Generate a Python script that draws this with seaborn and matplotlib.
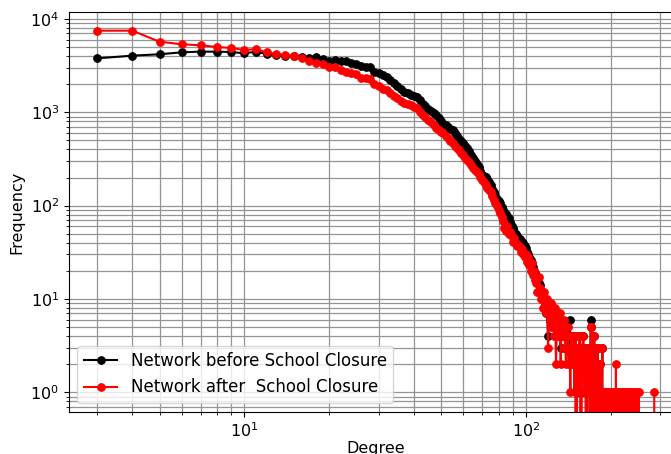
import numpy as np
import pandas as pd
import matplotlib
matplotlib.use("Agg")
import matplotlib.pyplot as plt
import seaborn as sns

label_before = "Network before School Closure"
label_after = "Network after  School Closure"

freq_before = [
    3790, 4050, 4190, 4400, 4470, 4470, 4430, 4290, 4470, 4220,
    4120, 4050, 4010, 3950, 3850, 3890, 3730, 3580, 3640, 3560,
    3560, 3350, 3300, 3140, 3090, 3060, 2720, 2620, 2520, 2410,
    2220, 2060, 1910, 1780, 1660, 1610, 1530, 1500, 1470, 1360,
    1230, 1170, 1090, 1030, 985, 935, 870, 810, 750, 730,
    700, 660, 646, 600, 560, 520, 490, 470, 435, 414,
    385, 350, 325, 300, 280, 260, 235, 213, 208, 203,
    193, 180, 167, 151, 141, 128, 119, 112, 107, 97,
    90, 86, 82, 78, 74, 67, 61, 57, 52, 50,
    47, 45, 44, 42, 41, 40, 37, 35, 32, 30,
    28, 26, 24, 22, 20, 19, 17,
    16, 15, 14, 12, 11, 10, 8, 9, 7, 8,
    4, 7, 6, 8, 5, 6, 6, 5, 7, 5,
    5, 4, 6, 3, 5, 4, 5, 5, 3, 3,
    4, 4, 3, 6, 2, 4, 3, 3, 4, 2,
    4, 1, 3, 3, 1, 4, 2, 1, 3, 3,
    4, 1, 2, 3, 1, 3, 1, 2, 3, 1,
    5, 6, 3, 1, 1, 4, 2, 1, 0, 3,
    3, 1, 0, 2, 1, 0, 1, 3, 0, 1,
    1, 0, 1, 1, 0, 1, 0, 1, 1, 0,
]

freq_after = [
    7500, 7500, 5710, 5360, 5230, 5010, 4890, 4650, 4770, 4400,
    4220, 4120, 4010, 3790, 3550, 3400, 3300, 3080, 3030, 2840,
    2720, 2620, 2550, 2330, 2320, 2270, 2010, 1910, 1780, 1730,
    1610, 1500, 1430, 1320, 1250, 1230, 1200, 1140, 1110, 1010,
    935, 890, 830, 790, 730, 680, 646, 615, 596, 560,
    530, 490, 470, 435, 414, 395, 365, 349, 325, 310,
    295, 275, 251, 240, 228, 218, 204, 190, 180, 167,
    156, 148, 141, 128, 115, 107, 100, 90, 84, 76,
    69, 58, 54, 61, 50, 52, 47, 41, 45, 40,
    37, 38, 36, 32, 34, 30, 28, 30, 25, 28,
    23, 20, 24, 18, 20, 16, 15,
    12, 17, 13, 10, 11, 8, 12, 9, 7, 10,
    3, 8, 6, 9, 5, 7, 4, 8, 2, 5,
    6, 4, 7, 2, 5, 4, 4, 6, 3, 2,
    4, 5, 2, 3, 1, 4, 2, 3, 4, 1,
    4, 0, 3, 3, 1, 4, 2, 0, 3, 3,
    4, 1, 2, 3, 0, 3, 1, 2, 3, 0,
    5, 5, 3, 0, 1, 4, 2, 1, 0, 3,
    3, 1, 0, 2, 1, 0, 1, 3, 0, 1,
    1, 0, 1, 1, 0, 1, 0, 1, 1, 0,
    1, 0, 0, 1, 0, 1, 0, 1, 0, 2,
    0, 1, 0, 0, 1, 0, 1, 0, 0, 1,
    0, 0, 1, 0, 1, 0, 0, 1, 0, 0,
    1, 0, 0, 1, 0, 0, 1, 0, 0, 0,
    1, 0, 0, 0, 1, 0, 0, 0, 1, 0,
    0, 1, 1, 0, 0, 0, 0, 0, 0, 0,
    0, 0, 0, 0, 0, 0, 0, 0, 0, 0,
    0, 0, 0, 0, 0, 0, 0, 0, 0, 0,
    0, 0, 0, 0, 0, 0, 1,
]

first_degree = 3
deg_before = list(range(first_degree, first_degree + len(freq_before)))
deg_after = list(range(first_degree, first_degree + len(freq_after)))

df_before = pd.DataFrame({"Degree": deg_before, "Frequency": freq_before})
df_after = pd.DataFrame({"Degree": deg_after, "Frequency": freq_after})

fig = plt.figure(figsize=(6.71, 4.54), dpi=100)
ax = fig.add_axes([69 / 671, (454 - 411.5) / 454, (682 - 69) / 671, (411.5 - 12.3) / 454])

sns.lineplot(data=df_before, x="Degree", y="Frequency", ax=ax, color="black",
             marker="o", markersize=5.5, markeredgecolor="black", linewidth=1.5,
             estimator=None, sort=False, label=label_before)
sns.lineplot(data=df_after, x="Degree", y="Frequency", ax=ax, color="red",
             marker="o", markersize=5.5, markeredgecolor="red", linewidth=1.5,
             estimator=None, sort=False, label=label_after)

ax.set_xscale("log")
ax.set_yscale("log")
ax.set_xlim(10 ** 0.377, 10 ** 2.555)
ax.set_ylim(10 ** -0.206, 10 ** 4.072)

ax.grid(True, which="both", color="0.58", linewidth=0.9)
ax.set_axisbelow(True)

ax.set_xlabel("Degree", fontsize=11.5, labelpad=1)
ax.set_ylabel("Frequency", fontsize=11.5, labelpad=4)
ax.tick_params(labelsize=11.5)

ax.legend(loc="lower left", fontsize=12)

fig.savefig("out.png", dpi=100)
